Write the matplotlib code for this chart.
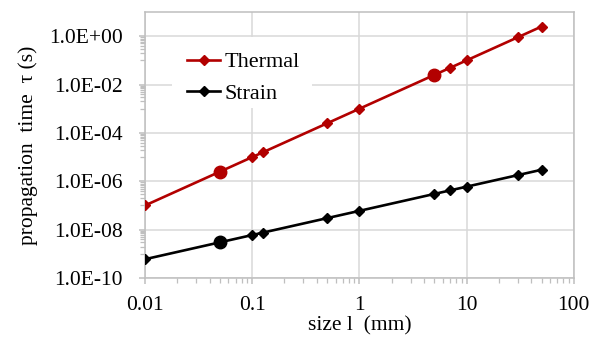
import numpy as np
import matplotlib
matplotlib.use("Agg")
import matplotlib.pyplot as plt
from matplotlib.patches import Rectangle
from matplotlib.ticker import FixedLocator, FuncFormatter, NullFormatter

# size l (mm)
size_mm = [0.01, 0.05, 0.1, 0.125, 0.5, 1, 5, 7, 10, 30, 50]
# propagation time (s)
thermal = [1e-7, 2.5e-6, 1e-5, 1.56e-5, 2.5e-4, 1e-3, 2.5e-2, 4.9e-2, 0.1, 0.9, 2.5]
strain = [6e-10, 3e-9, 6e-9, 7.5e-9, 3e-8, 6e-8, 3e-7, 4.2e-7, 6e-7, 1.8e-6, 3e-6]
# points drawn as big circles
thermal_big = [1, 6]
strain_big = [1]

red = "#B20000"
grid_c = "#d9d9d9"
spine_c = "#bfbfbf"

plt.rcParams["font.family"] = ["Liberation Serif", "DejaVu Serif"]

fig = plt.figure(figsize=(6.04, 3.48), dpi=100)
ax = fig.add_axes([0.240, 0.201, 0.710, 0.7645])

def draw(vals, big, color, label):
    small = [i for i in range(len(vals)) if i not in big]
    ax.plot(size_mm, vals, color=color, lw=1.9, zorder=3)
    ax.plot([size_mm[i] for i in small], [vals[i] for i in small], "D",
            color=color, ms=5, zorder=4)
    ax.plot([size_mm[i] for i in big], [vals[i] for i in big], "o",
            color=color, ms=9, zorder=4)
    ax.plot([], [], color=color, lw=1.9, marker="D", ms=5, label=label)

draw(thermal, thermal_big, red, "Thermal")
draw(strain, strain_big, "black", "Strain")

ax.set_xscale("log")
ax.set_yscale("log")
ax.set_xlim(0.01, 100)
ax.set_ylim(1e-10, 10)

ax.xaxis.set_major_locator(FixedLocator([0.01, 0.1, 1, 10, 100]))
ax.xaxis.set_major_formatter(FuncFormatter(lambda v, p: "%g" % v))
ax.xaxis.set_minor_locator(FixedLocator(
    [k * 10.0 ** e for e in range(-2, 2) for k in range(2, 10)]))
ax.xaxis.set_minor_formatter(NullFormatter())

ax.yaxis.set_major_locator(FixedLocator([10.0 ** e for e in range(-10, 1, 2)]))
ax.yaxis.set_major_formatter(FuncFormatter(
    lambda v, p: "1.0E%+03d" % int(round(np.log10(v)))))
ax.yaxis.set_minor_locator(FixedLocator(
    [k * 10.0 ** e for e in range(-9, 0, 2) for k in range(1, 10)]))
ax.yaxis.set_minor_formatter(NullFormatter())

ax.grid(True, which="major", color=grid_c, lw=1.1)
ax.set_axisbelow(True)
for s in ax.spines.values():
    s.set_color(spine_c)
    s.set_linewidth(1.1)

ax.tick_params(which="both", direction="out", color=spine_c, labelsize=15.5)
ax.tick_params(which="major", length=4, width=1.1)
ax.tick_params(which="minor", length=3.5, width=0.9)
ax.tick_params(axis="y", pad=12)
ax.tick_params(axis="x", pad=9)

ax.set_xlabel("size l  (mm)", fontsize=15.5, labelpad=1)
ax.set_ylabel("propagation  time  \u03c4 (s)", fontsize=15.5, labelpad=8)

ax.add_patch(Rectangle((0.063, 0.639), 0.326, 0.267, transform=ax.transAxes,
                       facecolor="white", edgecolor="none", zorder=1))
ax.legend(loc="upper left", bbox_to_anchor=(0.098, 0.85), frameon=False,
          fontsize=16, borderpad=0, borderaxespad=0, handlelength=1.5,
          handletextpad=0.2, labelspacing=0.5)

fig.savefig("out.png", dpi=100)
